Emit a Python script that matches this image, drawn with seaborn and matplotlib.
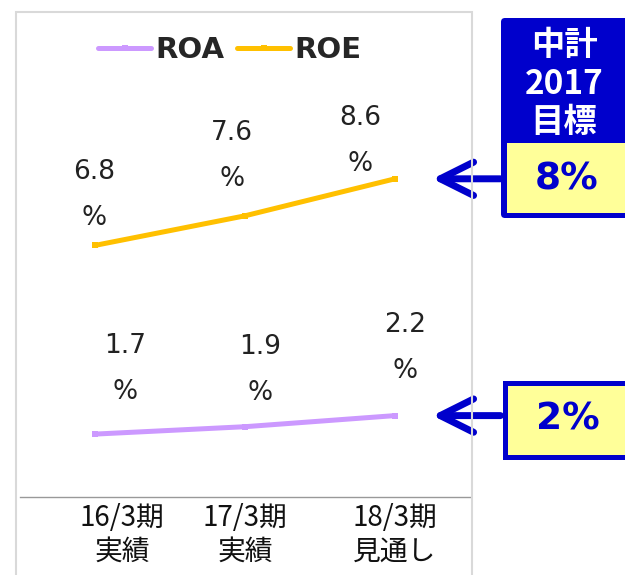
import numpy as np
import pandas as pd
import matplotlib.pyplot as plt
import seaborn as sns
from matplotlib.patches import Rectangle, FancyBboxPatch
from matplotlib.transforms import ScaledTranslation

periods = ["16/3期\n実績", "17/3期\n実績", "18/3期\n見通し"]
series = ["ROA", "ROE"]
roa = [1.7, 1.9, 2.2]
roe = [6.8, 7.6, 8.6]
target_title = "中計\n2017\n目標"
roe_target = "8%"
roa_target = "2%"

colors = {"ROA": "#CC99FF", "ROE": "#FFC000"}
blue = "#0000CC"
yellow = "#FFFF99"

# label offsets (pixels) of the label block centre from each point
roa_off = [(30, 65), (15, 57), (10, 68)]
roe_off = [(-1, 50), (-13, 60), (-35, 38)]

df = pd.DataFrame({
    "pos": list(range(len(periods))) * 2,
    "value": roa + roe,
    "series": ["ROA"] * len(roa) + ["ROE"] * len(roe),
})

sns.set_style("white")
plt.rcParams["font.family"] = ["DejaVu Sans", "Noto Sans CJK JP"]

W, H = 625, 575
fig = plt.figure(figsize=(W / 100, H / 100), dpi=100)
ax = fig.add_axes([20 / W, (H - 497) / H, 450 / W, 485 / H])


def inch(x, y):
    return x / 100, (H - y) / 100


sns.lineplot(data=df, x="pos", y="value", hue="series", hue_order=series,
             palette=colors, marker="s", markersize=5, markeredgewidth=0,
             linewidth=3.6, ax=ax)

ax.set_xlim(-0.5, 2.5)
ax.set_ylim(0, 485 / 37)
ax.set_xlabel("")
ax.set_ylabel("")
ax.set_yticks([])
ax.set_xticks(range(len(periods)))
ax.set_xticklabels(periods, fontsize=20, family=["Noto Sans CJK JP"], linespacing=1.16,
                   color="#111111")
ax.tick_params(axis="x", length=0, pad=4.5)
lab0 = ax.get_xticklabels()[0]
lab0.set_transform(lab0.get_transform() + ScaledTranslation(0.27, 0, fig.dpi_scale_trans))
for s in ["top", "left", "right"]:
    ax.spines[s].set_visible(False)
ax.spines["bottom"].set_color("#999999")
ax.spines["bottom"].set_linewidth(1)

# data labels
for vals, offs in [(roa, roa_off), (roe, roe_off)]:
    for i, (v, (dx, dy)) in enumerate(zip(vals, offs)):
        ax.annotate(f"{v}", (i, v), xytext=(dx, dy + 23), textcoords="offset pixels",
                    ha="center", va="center", fontsize=19, color="#222222")
        ax.annotate("%", (i, v), xytext=(dx, dy - 23), textcoords="offset pixels",
                    ha="center", va="center", fontsize=19, color="#222222")

# legend
handles, labels = ax.get_legend_handles_labels()
ax.legend(handles, labels, loc="center", ncol=2, frameon=False,
          bbox_to_anchor=inch(230, 50), bbox_transform=fig.dpi_scale_trans,
          prop={"weight": "bold", "size": 21}, handlelength=1.8,
          handletextpad=0.15, columnspacing=0.45)

# outer frame
fig.patches.append(Rectangle(inch(16, 590), 4.56, 5.78, transform=fig.dpi_scale_trans,
                             fill=False, edgecolor="#D9D9D9", linewidth=1.5))

# target boxes (run off the right edge)
fig.patches.append(FancyBboxPatch(inch(501, 218), 1.5, 2.0, transform=fig.dpi_scale_trans,
                                  boxstyle="round,pad=0,rounding_size=0.04",
                                  facecolor=blue, edgecolor="none"))
fig.patches.append(Rectangle(inch(507, 213), 1.4, 0.70, transform=fig.dpi_scale_trans,
                             facecolor=yellow, edgecolor="none"))
fig.text(*inch(564, 84), target_title, transform=fig.dpi_scale_trans, ha="center", va="center",
         color="white", fontsize=24, fontweight="bold", family=["Noto Sans CJK JP"],
         linespacing=1.22)
fig.text(*inch(567, 180), roe_target, transform=fig.dpi_scale_trans, ha="center", va="center",
         color=blue, fontsize=27, fontweight="bold")

fig.patches.append(Rectangle(inch(504.5, 456.5), 1.5, 0.74, transform=fig.dpi_scale_trans,
                             facecolor=yellow, edgecolor=blue, linewidth=3.6))
fig.text(*inch(568, 420), roa_target, transform=fig.dpi_scale_trans, ha="center", va="center",
         color=blue, fontsize=27, fontweight="bold")

# arrows pointing at the latest values
for v in [roe[-1], roa[-1]]:
    ax.annotate("", xy=(2.25, v), xytext=(68, 0), textcoords="offset pixels",
                arrowprops=dict(arrowstyle="->,head_length=1.2,head_width=0.6",
                                mutation_scale=20, color=blue, lw=5,
                                capstyle="round", joinstyle="round",
                                shrinkA=0, shrinkB=0),
                annotation_clip=False)

fig.savefig("out.png", dpi=100)
